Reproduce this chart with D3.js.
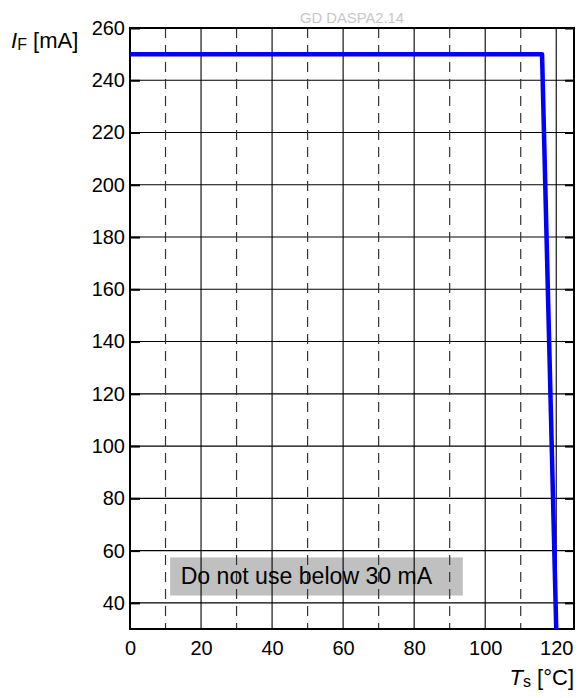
<!DOCTYPE html>
<html>
<head>
<meta charset="utf-8">
<script src="https://cdn.jsdelivr.net/npm/d3@7"></script>
<style>
  html, body { margin: 0; padding: 0; background: #fff; }
  svg { display: block; font-family: "Liberation Sans", Arial, sans-serif; }
</style>
</head>
<body>
<svg id="chart" width="578" height="698"></svg>
<script>
// ---- data ----
const xTickValues = [0, 20, 40, 60, 80, 100, 120];
const xDashedValues = [10, 30, 50, 70, 90, 110];
const yTickValues = [40, 60, 80, 100, 120, 140, 160, 180, 200, 220, 240, 260];
const curveTs = [0, 116, 120];
const curveIF = [250, 250, 30];
const noteText = "Do not use below 30 mA";
const watermark = "GD DASPA2.14";

// ---- layout ----
const pLeft = 130, pRight = 574, pTop = 28, pBottom = 629;
const noteBox = { x0: 11.3, x1: 93.7, y0: 42.8, y1: 57.4 };
const x = d3.scaleLinear().domain([0, 125]).range([pLeft, pRight]);
const y = d3.scaleLinear().domain([30, 260]).range([pBottom, pTop]);

const svg = d3.select("#chart");

// watermark
svg.append("text")
  .attr("x", (pLeft + pRight) / 2).attr("y", 22.5)
  .attr("text-anchor", "middle")
  .attr("font-size", 14.8)
  .attr("fill", "#c8c8c8")
  .text(watermark);

// note box
svg.append("rect")
  .attr("x", x(noteBox.x0)).attr("y", y(noteBox.y1))
  .attr("width", x(noteBox.x1) - x(noteBox.x0))
  .attr("height", y(noteBox.y0) - y(noteBox.y1))
  .attr("fill", "#c0c0c0");

svg.append("text")
  .attr("x", x(noteBox.x0) + 10.5).attr("y", 584)
  .attr("font-size", 23.1)
  .attr("fill", "#000")
  .text(noteText);

// grid
const g = svg.append("g");
g.selectAll("line.h").data(yTickValues.filter(v => v !== 260)).enter().append("line")
  .attr("x1", pLeft).attr("x2", pRight)
  .attr("y1", d => y(d)).attr("y2", d => y(d))
  .attr("stroke", "#000").attr("stroke-width", 1.1);
g.selectAll("line.vs").data(xTickValues.filter(v => v !== 0)).enter().append("line")
  .attr("x1", d => x(d)).attr("x2", d => x(d))
  .attr("y1", pTop).attr("y2", pBottom)
  .attr("stroke", "#000").attr("stroke-width", 1.1);
g.selectAll("line.vd").data(xDashedValues).enter().append("line")
  .attr("x1", d => x(d)).attr("x2", d => x(d))
  .attr("y1", pTop).attr("y2", pBottom)
  .attr("stroke", "#333").attr("stroke-width", 1.2)
  .attr("stroke-dasharray", "10,7");

// axes with inward ticks
const yAxisL = d3.axisLeft(y).tickValues(yTickValues).tickSize(-10).tickPadding(5).tickFormat(d3.format("d"));
const yAxisR = d3.axisRight(y).tickValues(yTickValues).tickSize(-9).tickFormat("");
const xAxisB = d3.axisBottom(x).tickValues(xTickValues).tickSize(0).tickPadding(12).tickFormat(d3.format("d"));

const ay = svg.append("g").attr("transform", `translate(${pLeft},0)`).call(yAxisL);
const ayr = svg.append("g").attr("transform", `translate(${pRight},0)`).call(yAxisR);
const ax = svg.append("g").attr("transform", `translate(0,${pBottom})`).call(xAxisB);
[ay, ayr, ax].forEach(a => {
  a.select(".domain").remove();
  a.selectAll(".tick line").attr("stroke", "#000").attr("stroke-width", 2);
  a.selectAll("text").attr("font-size", 20).attr("fill", "#000")
    .attr("font-family", "'Liberation Sans', Arial, sans-serif");
});

// frame
svg.append("rect")
  .attr("x", pLeft).attr("y", pTop)
  .attr("width", pRight - pLeft).attr("height", pBottom - pTop)
  .attr("fill", "none").attr("stroke", "#000").attr("stroke-width", 2);

// curve
const line = d3.line().x(d => x(d[0])).y(d => y(d[1]));
svg.append("path")
  .datum(curveTs.map((t, i) => [t, curveIF[i]]))
  .attr("d", line)
  .attr("fill", "none")
  .attr("stroke", "#0000ff")
  .attr("stroke-width", 4.5)
  .attr("stroke-linejoin", "round");

// axis titles
const yt = svg.append("text").attr("x", 11).attr("y", 48).attr("font-size", 22).attr("fill", "#000");
yt.append("tspan").attr("font-style", "italic").text("I");
yt.append("tspan").attr("font-size", 16).attr("dy", 2).text("F");
yt.append("tspan").attr("dy", -2).text(" [mA]");

const xt = svg.append("text").attr("x", pRight).attr("y", 685).attr("text-anchor", "end").attr("font-size", 22).attr("fill", "#000");
xt.append("tspan").attr("font-style", "italic").text("T");
xt.append("tspan").attr("font-size", 16).attr("dy", 2).text("s");
xt.append("tspan").attr("dy", -2).text(" [°C]");
</script>
</body>
</html>
